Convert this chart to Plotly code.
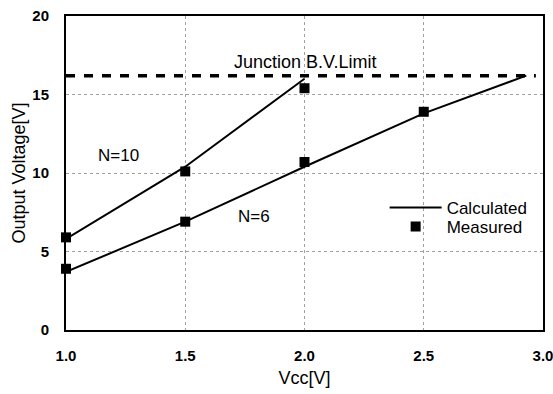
import plotly.graph_objects as go

# ---- data ----
calc_n10_x = [1.0, 1.5, 2.0]
calc_n10_y = [5.8, 10.4, 16.0]

calc_n6_x = [1.0, 1.5, 2.0, 2.5, 2.93]
calc_n6_y = [3.7, 6.9, 10.4, 13.8, 16.2]

meas_x = [1.0, 1.5, 2.0, 1.0, 1.5, 2.0, 2.5]
meas_y = [5.9, 10.1, 15.4, 3.9, 6.9, 10.7, 13.9]

limit_x = [1.0, 2.97]
limit_y = [16.2, 16.2]

x_ticks = [1.0, 1.5, 2.0, 2.5, 3.0]
x_tick_labels = ["1.0", "1.5", "2.0", "2.5", "3.0"]
y_ticks = [0, 5, 10, 15, 20]

FONT = "Liberation Sans, Arial, sans-serif"

fig = go.Figure()

fig.add_trace(go.Scatter(x=limit_x, y=limit_y, mode="lines",
                         line=dict(color="black", width=3.5, dash="9px,9px"),
                         showlegend=False, hoverinfo="skip"))
fig.add_trace(go.Scatter(x=calc_n10_x, y=calc_n10_y, mode="lines",
                         line=dict(color="black", width=2),
                         showlegend=False))
fig.add_trace(go.Scatter(x=calc_n6_x, y=calc_n6_y, mode="lines",
                         line=dict(color="black", width=2),
                         name="Calculated", legend="legend"))
fig.add_trace(go.Scatter(x=meas_x, y=meas_y, mode="markers",
                         marker=dict(symbol="square", size=10, color="black"),
                         cliponaxis=False, name="Measured", legend="legend2"))

fig.add_annotation(x=2.0, y=17.1, xref="x", yref="y", text="Junction B.V.Limit",
                   showarrow=False, xanchor="center", yanchor="middle",
                   font=dict(family=FONT, size=18, color="black"))
fig.add_annotation(x=1.22, y=11.1, xref="x", yref="y", text="N=10",
                   showarrow=False, yanchor="middle",
                   font=dict(family=FONT, size=17, color="black"))
fig.add_annotation(x=1.79, y=7.2, xref="x", yref="y", text="N=6",
                   showarrow=False, yanchor="middle",
                   font=dict(family=FONT, size=17, color="black"))

leg_common = dict(xanchor="left", yanchor="middle", bgcolor="rgba(0,0,0,0)",
                  itemwidth=52, borderwidth=0,
                  font=dict(family=FONT, size=17, color="black"))

fig.update_layout(
    width=553, height=394,
    margin=dict(l=66, r=10, t=16, b=64),
    paper_bgcolor="white", plot_bgcolor="white",
    font=dict(family=FONT, size=16, color="black"),
    legend=dict(x=0.668, y=0.389, **leg_common),
    legend2=dict(x=0.668, y=0.328, **leg_common),
    xaxis=dict(range=[1.0, 3.0], tickvals=x_ticks, ticktext=x_tick_labels,
               automargin=False, ticklabeloverflow="allow",
               showline=True, linecolor="black", linewidth=2, mirror=True,
               showgrid=True, gridcolor="#a0a0a0", griddash="dot", gridwidth=1,
               zeroline=False, ticks="", ticklabelstandoff=11,
               tickfont=dict(family=FONT, size=15, color="black", weight="bold"),
               title=dict(text="Vcc[V]", standoff=8,
                          font=dict(family=FONT, size=18, color="black"))),
    yaxis=dict(range=[0, 20], tickvals=y_ticks, automargin=False,
               ticklabeloverflow="allow",
               showline=True, linecolor="black", linewidth=2, mirror=True,
               showgrid=True, gridcolor="#a0a0a0", griddash="dot", gridwidth=1,
               zeroline=False, ticks="", ticklabelstandoff=12,
               tickfont=dict(family=FONT, size=15, color="black", weight="bold"),
               title=dict(text="Output Voltage[V]", standoff=2,
                          font=dict(family=FONT, size=18, color="black"))),
)

fig.write_html("out.html")
